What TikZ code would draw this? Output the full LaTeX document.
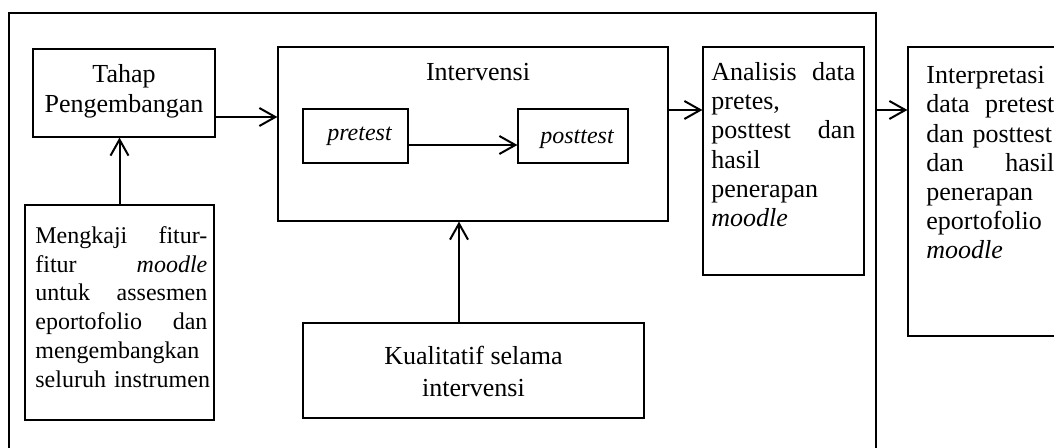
\documentclass[tikz,border=0pt]{standalone}
\usepackage{fontspec}
\setmainfont{Liberation Serif}
\usepackage{tikz}
\usetikzlibrary{arrows.meta, positioning, fit, calc}

\newcommand{\bodyfont}{\fontsize{12}{14.4}\selectfont}
\newcommand{\sidefont}{\fontsize{13}{14.6}\selectfont}
\newcommand{\headfont}{\fontsize{13}{15}\selectfont}

\begin{document}
\begin{tikzpicture}[
  x=0.5pt, y=-0.5pt,
  box/.style={draw, line width=0.6pt, inner sep=0pt},
  frame/.style={draw, line width=0.9pt, inner sep=0pt},
  txt/.style={inner sep=0pt, anchor=north west, align=left, font=\bodyfont},
  head/.style={inner sep=0pt, align=center, font=\headfont},
  conn/.style={-{Straight Barb[length=8pt, width=9pt]}, line width=1pt}
]
\useasboundingbox (0,0) rectangle (1054,448);
\clip (0,0) rectangle (1054,448);

% Outer frame
\node[frame, fit={(9,13) (876,470)}] (frame) {};

% Development stage
\node[box, fit={(33,49) (215,137)}] (tahap) {};
\node[head] (tahap-t) at ([yshift=1pt]tahap.center) {Tahap\\Pengembangan};
\node[box, fit={(25,205) (214,420)}] (mengkaji) {};
\node[txt, text width=86pt] (mengkaji-t) at (35,226)
  {Mengkaji\hfill fitur-\\fitur\hfill\textit{moodle}\\untuk\hfill assesmen\\eportofolio\hfill dan\\mengembangkan\\\mbox{seluruh instrumen}};

% Intervention
\node[box, fit={(278,47) (668,221)}] (interv) {};
\node[head, anchor=base] (interv-t) at (478,81) {Intervensi};
\node[box, fit={(303,109) (408,163)}] (pretest) {};
\node[head, font=\bodyfont\itshape] (pretest-t) at ([xshift=2pt]pretest.center) {pretest};
\node[box, fit={(518,109) (628,163)}] (posttest) {};
\node[head, font=\bodyfont\itshape] (posttest-t) at ([xshift=2pt, yshift=-1.5pt]posttest.center) {posttest};
\node[box, fit={(303,323) (644,418)}] (kual) {};
\node[head] (kual-t) at ([yshift=-0.5pt]kual.center) {Kualitatif selama\\[1pt]intervensi};

% Analysis
\node[box, fit={(703,47) (864,275)}] (analisis) {};
\node[txt, font=\sidefont, text width=72pt] (analisis-t) at (711,62)
  {Analisis\hfill data\\pretes,\\posttest\hfill dan\\hasil\\penerapan\\\textit{moodle}};

% Interpretation
\node[box, fit={(908,47) (1073,336)}] (interp) {};
\node[txt, font=\sidefont, text width=64pt] (interp-t) at (926,66)
  {Interpretasi\\data\hfill pretest\\dan posttest\\dan\hfill hasil\\penerapan\\eportofolio\\\textit{moodle}};

% Connections
\draw[conn] (mengkaji.north) -- (mengkaji.north |- tahap.south);
\draw[conn] ([yshift=-12pt]tahap.east) -- ([yshift=-12pt]tahap.east -| interv.west);
\draw[conn] ([yshift=-4.5pt]pretest.east) -- ([yshift=-4.5pt]pretest.east -| posttest.west);
\draw[conn] ([xshift=-7.25pt]kual.north) -- ([xshift=-7.25pt]kual.north |- interv.south);
\draw[conn] ([yshift=12pt]interv.east) -- ([yshift=12pt]interv.east -| analisis.west);
\draw[conn] ([yshift=12pt]interv.east -| frame.east) -- ([yshift=12pt]interv.east -| interp.west);

\end{tikzpicture}
\end{document}
